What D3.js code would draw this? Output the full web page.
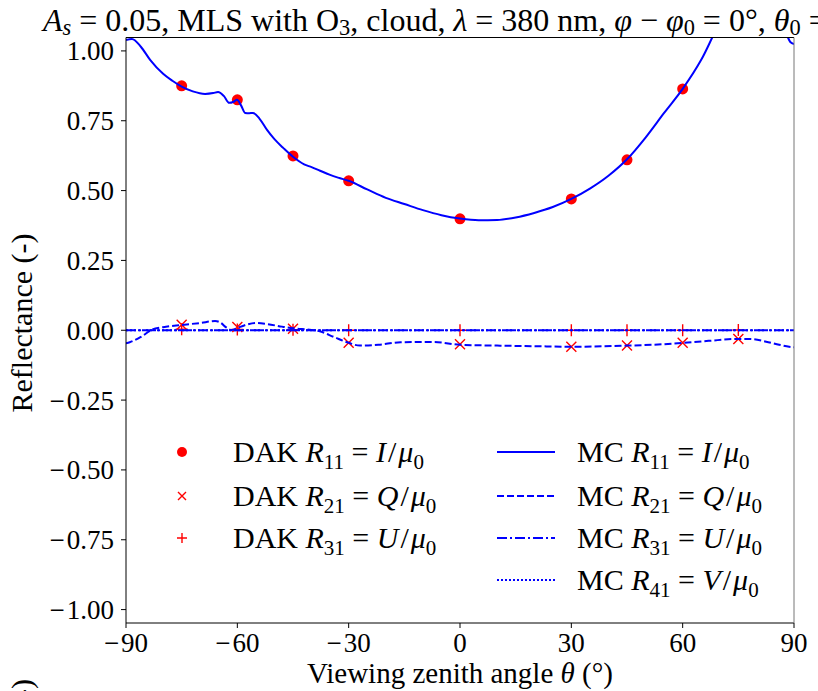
<!DOCTYPE html>
<html><head><meta charset="utf-8">
<script src="https://cdn.jsdelivr.net/npm/d3@7"></script>
<style>
body{margin:0;background:#fff;}
svg{display:block;}
text{font-family:"Liberation Serif","Times New Roman",serif;fill:#000;}
</style>
</head><body>
<svg id="chart" width="818" height="691"></svg>
<script>
// ---------- data ----------
const dakAngles = [-75, -60, -45, -30, 0, 30, 45, 60];
const dakR11 = [0.875, 0.825, 0.624, 0.535, 0.399, 0.470, 0.610, 0.864];
const dakR21Angles = [-75, -60, -45, -30, 0, 30, 45, 60, 75];
const dakR21 = [0.020, 0.012, 0.005, -0.045, -0.050, -0.059, -0.055, -0.045, -0.031];
const dakR31 = [0.004, 0.003, 0.002, 0.000, 0.000, 0.000, 0.000, 0.000, 0.001];

const mcR11Angles = [-90, -88.4, -86, -83.5, -80, -77.5, -75, -72, -68.7, -66.5, -65.2, -63.6, -62.2, -61, -60.1, -59, -57.9, -56.8, -55.8, -54, -52, -50, -47.5, -45, -42, -40, -37.7, -35, -32.5, -30, -25, -20, -15, -10, -5, 0, 5, 10, 15, 20, 25, 30, 35, 40, 45, 50, 55, 60, 65, 70, 75, 80, 84, 87, 88.3, 89, 90];
const mcR11 = [1.039, 1.043, 1.015, 0.968, 0.918, 0.893, 0.872, 0.855, 0.846, 0.849, 0.853, 0.838, 0.814, 0.818, 0.825, 0.805, 0.778, 0.777, 0.778, 0.757, 0.717, 0.684, 0.651, 0.621, 0.594, 0.584, 0.571, 0.556, 0.545, 0.535, 0.504, 0.474, 0.452, 0.430, 0.412, 0.400, 0.394, 0.395, 0.404, 0.420, 0.441, 0.470, 0.507, 0.553, 0.612, 0.690, 0.778, 0.864, 0.968, 1.10, 1.19, 1.23, 1.18, 1.09, 1.05, 1.032, 1.025];

const mcR21Angles = [-90, -89, -86, -83, -80, -75, -70, -66, -64.5, -63, -61.5, -60, -58, -55, -52, -48, -45, -40, -38, -34, -30, -27, -22, -16, -7, 0, 10, 20, 30, 45, 55, 60, 67, 75, 78, 82.5, 86, 88.7, 90];
const mcR21 = [-0.047, -0.043, -0.024, 0.002, 0.011, 0.019, 0.026, 0.033, 0.027, 0.010, 0.001, 0.008, 0.018, 0.026, 0.022, 0.013, 0.007, 0.001, -0.003, -0.024, -0.045, -0.055, -0.052, -0.043, -0.042, -0.052, -0.055, -0.057, -0.059, -0.055, -0.050, -0.045, -0.038, -0.031, -0.031, -0.041, -0.052, -0.059, -0.061];

const mcFlatAngles = [-90, -60, -30, 0, 30, 60, 90];
const mcR31 = [0, 0, 0, 0, 0, 0, 0];
const mcR41 = [0, 0, 0, 0, 0, 0, 0];

const xTicks = [-90, -60, -30, 0, 30, 60, 90];
const yTicks = [-1.00, -0.75, -0.50, -0.25, 0.00, 0.25, 0.50, 0.75, 1.00];

// ---------- layout ----------
const svg = d3.select("#chart");
const L = 126, R = 794, T = 37.5, B = 623;
const x = d3.scaleLinear().domain([-90, 90]).range([L, R]);
const y = d3.scaleLinear().domain([-1.048, 1.048]).range([B, T]);
const blue = "#0000ff", red = "#ff0000";
const FS = 27;     // tick labels
const LFS = 29;    // axis labels
const GFS = 30;    // legend
const TFS = 32;    // title

svg.append("defs").append("clipPath").attr("id", "clip")
  .append("rect").attr("x", L).attr("y", T).attr("width", R - L).attr("height", B - T);

// math-ish text helper
function mathText(sel, parts, fs, subShift = 0.24) {
  let shift = 0;
  parts.forEach(p => {
    const ts = sel.append("tspan").text(p.t);
    if (p.i) ts.attr("font-style", "italic");
    const target = p.sub ? fs * subShift : 0;
    if (target !== shift) { ts.attr("dy", target - shift); shift = target; }
    if (p.sub) ts.attr("font-size", fs * 0.7);
    if (p.dx) ts.attr("dx", p.dx);
  });
}

// ---------- DAK markers (drawn beneath lines) ----------
const gp = svg.append("g").attr("clip-path", "url(#clip)");
gp.selectAll("circle.dak").data(dakAngles.map((a, i) => [a, dakR11[i]]))
  .join("circle").attr("class", "dak")
  .attr("cx", d => x(d[0])).attr("cy", d => y(d[1])).attr("r", 5.5).attr("fill", red);

function xMark(g, cx, cy, s) {
  g.append("path").attr("d", `M${cx - s},${cy - s}L${cx + s},${cy + s}M${cx - s},${cy + s}L${cx + s},${cy - s}`)
    .attr("stroke", red).attr("stroke-width", 1.4).attr("fill", "none");
}
function plusMark(g, cx, cy, s) {
  g.append("path").attr("d", `M${cx - s},${cy}L${cx + s},${cy}M${cx},${cy - s}L${cx},${cy + s}`)
    .attr("stroke", red).attr("stroke-width", 1.4).attr("fill", "none");
}
dakR21Angles.forEach((a, i) => xMark(gp, x(a), y(dakR21[i]), 5));
dakR21Angles.forEach((a, i) => plusMark(gp, x(a), y(dakR31[i]), 6));

// ---------- MC lines ----------
const line = d3.line().x(d => x(d[0])).y(d => y(d[1])).curve(d3.curveMonotoneX);
function drawLine(angles, vals, dash) {
  gp.append("path").datum(angles.map((a, i) => [a, vals[i]]))
    .attr("d", line).attr("fill", "none").attr("stroke", blue).attr("stroke-width", 2)
    .attr("stroke-dasharray", dash);
}
drawLine(mcFlatAngles, mcR41, "2,2");
drawLine(mcFlatAngles, mcR31, "10,3,2,3");
drawLine(mcR21Angles, mcR21, "7,3");
drawLine(mcR11Angles, mcR11, null);

// ---------- frame & axes ----------
svg.append("line").attr("x1", L).attr("x2", R).attr("y1", T).attr("y2", T).attr("stroke", "#000");
svg.append("line").attr("x1", L).attr("x2", L).attr("y1", T).attr("y2", B).attr("stroke", "#000");
svg.append("line").attr("x1", L).attr("x2", R).attr("y1", B).attr("y2", B).attr("stroke", "#000");
svg.append("line").attr("x1", R).attr("x2", R).attr("y1", T).attr("y2", B).attr("stroke", "#777");

// tick label with a wide (math) minus sign
function tickText(sel, v, digits) {
  const s = Math.abs(v).toFixed(digits);
  if (v < 0) mathText(sel, [{t: "\u2212"}, {t: s, dx: 2}], FS);
  else sel.text(s);
}
const yAxis = svg.append("g");
yTicks.forEach(v => {
  yAxis.append("line").attr("x1", L - 5).attr("x2", L).attr("y1", y(v)).attr("y2", y(v)).attr("stroke", "#000");
  tickText(yAxis.append("text").attr("x", L - 12).attr("y", y(v) + 9.5).attr("text-anchor", "end")
    .attr("font-size", FS), v, 2);
});
const xAxis = svg.append("g");
xTicks.forEach(v => {
  xAxis.append("line").attr("x1", x(v)).attr("x2", x(v)).attr("y1", B).attr("y2", B + 5).attr("stroke", "#000");
  tickText(xAxis.append("text").attr("x", x(v)).attr("y", 652).attr("text-anchor", "middle")
    .attr("font-size", FS), v, 0);
});

// axis labels
mathText(svg.append("text").attr("x", (L + R) / 2).attr("y", 683).attr("text-anchor", "middle").attr("font-size", LFS),
  [{t: "Viewing zenith angle "}, {t: "\u03B8", i: true}, {t: " (\u00B0)"}], LFS);
svg.append("text").attr("transform", `translate(32,323) rotate(-90)`)
  .attr("text-anchor", "middle").attr("font-size", LFS + 1).text("Reflectance (-)");
// partial label of the panel below
svg.append("text").attr("transform", `translate(32,679) rotate(-90)`)
  .attr("text-anchor", "end").attr("font-size", LFS + 1).text("Reflectance (-)");

// title
mathText(svg.append("text").attr("x", 43).attr("y", 31).attr("font-size", TFS),
  [{t: "A", i: true}, {t: "s", i: true, sub: true}, {t: " = 0.05, MLS with O"}, {t: "3", sub: true},
   {t: ", cloud, "}, {t: "\u03BB", i: true}, {t: " = 380 nm, "}, {t: "\u03C6", i: true}, {t: " \u2212 "},
   {t: "\u03C6", i: true}, {t: "0", sub: true}, {t: " = 0\u00B0, "}, {t: "\u03B8", i: true}, {t: "0", sub: true}, {t: " ="}], TFS, 0.14);

// ---------- legend ----------
const leg = svg.append("g");
const rowsL = [452, 496, 538];
const rowsR = [452, 496, 538, 580];
leg.append("circle").attr("cx", 182).attr("cy", rowsL[0]).attr("r", 5).attr("fill", red);
xMark(leg, 182, rowsL[1], 4);
plusMark(leg, 182, rowsL[2], 5);
const symL = [["I", "11"], ["Q", "21"], ["U", "31"]];
function legParts(prefix, s) {
  return [{t: prefix}, {t: "R", i: true}, {t: s[1], sub: true}, {t: " = "}, {t: s[0], i: true},
          {t: "/", dx: 2}, {t: "\u03BC", i: true, dx: 2}, {t: "0", sub: true}];
}
symL.forEach((s, i) => {
  mathText(leg.append("text").attr("x", 233).attr("y", rowsL[i] + 10).attr("font-size", GFS),
    legParts("DAK ", s), GFS);
});
const dashes = [null, "7,3", "10,3,2,3", "2,2"];
const symR = [["I", "11"], ["Q", "21"], ["U", "31"], ["V", "41"]];
symR.forEach((s, i) => {
  leg.append("line").attr("x1", 497).attr("x2", 555).attr("y1", rowsR[i]).attr("y2", rowsR[i])
    .attr("stroke", blue).attr("stroke-width", 2).attr("stroke-dasharray", dashes[i]);
  mathText(leg.append("text").attr("x", 577).attr("y", rowsR[i] + 10).attr("font-size", GFS),
    legParts("MC ", s), GFS);
});
</script>
</body></html>
